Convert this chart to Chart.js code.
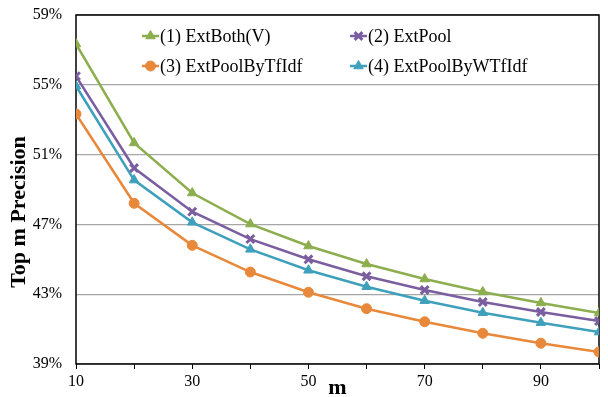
<!DOCTYPE html>
<html>
<head>
<meta charset="utf-8">
<script src="https://cdn.jsdelivr.net/npm/chart.js@4/dist/chart.umd.min.js"></script>
<style>
  html, body { margin: 0; padding: 0; background: #fff; }
  #wrap { width: 608px; height: 397px; position: relative; }
</style>
</head>
<body>
<div id="wrap"><canvas id="grafico"></canvas></div>
<script>
// valores
const valoresM = [10, 20, 30, 40, 50, 60, 70, 80, 90, 100];
const extBoth = [57.34, 51.67, 48.8, 47.02, 45.76, 44.73, 43.87, 43.13, 42.5, 41.92];
const extPool = [55.5, 50.23, 47.73, 46.16, 45.0, 44.03, 43.24, 42.55, 41.98, 41.46];
const extPoolByTfIdf = [53.33, 48.21, 45.8, 44.27, 43.11, 42.17, 41.42, 40.76, 40.19, 39.69];
const extPoolByWTfIdf = [54.93, 49.54, 47.12, 45.57, 44.37, 43.43, 42.63, 41.94, 41.37, 40.83];
const nomes = ['(1) ExtBoth(V)', '(2) ExtPool', '(3) ExtPoolByTfIdf', '(4) ExtPoolByWTfIdf'];
const tituloY = 'Top m Precision';
const tituloX = 'm';

const fonte = '"Liberation Serif", "Times New Roman", serif';

function montarSerie(nome, valores, cor, marcador, raio) {
  return {
    label: nome,
    data: valores.map((v, i) => ({ x: valoresM[i], y: v })),
    borderColor: cor,
    backgroundColor: cor,
    pointBackgroundColor: cor,
    pointBorderColor: cor,
    pointStyle: marcador,
    pointRadius: raio,
    pointBorderWidth: marcador === 'crossRot' ? 3 : 1,
    borderWidth: 2.5,
    tension: 0
  };
}

const series = [
  montarSerie(nomes[0], extBoth, '#8DAE4E', 'triangle', 5.5),
  montarSerie(nomes[1], extPool, '#7B5E9F', 'crossRot', 5.5),
  montarSerie(nomes[2], extPoolByTfIdf, '#E8883A', 'circle', 5),
  montarSerie(nomes[3], extPoolByWTfIdf, '#3FA0BC', 'triangle', 5.5)
];

// moldura da area do grafico e titulo do eixo y
const moldura = {
  id: 'moldura',
  beforeDatasetsDraw(chart) {
    const a = chart.chartArea;
    const ctx = chart.ctx;
    ctx.save();
    ctx.strokeStyle = '#000';
    ctx.lineWidth = 1.5;
    ctx.strokeRect(a.left, a.top, a.right - a.left, a.bottom - a.top);
    ctx.translate(19, 212);
    ctx.rotate(-Math.PI / 2);
    ctx.fillStyle = '#000';
    ctx.font = 'bold 22px ' + fonte;
    ctx.textAlign = 'center';
    ctx.textBaseline = 'middle';
    ctx.fillText(tituloY, 0, 0);
    ctx.restore();
  }
};

// legenda dentro da area do grafico
const legenda = {
  id: 'legenda',
  afterDraw(chart) {
    const ctx = chart.ctx;
    const posicoes = [[142, 36], [350, 36], [142, 66], [350, 66]];
    ctx.save();
    chart.data.datasets.forEach((ds, i) => {
      const [x, y] = posicoes[i];
      ctx.strokeStyle = ds.borderColor;
      ctx.lineWidth = 2.5;
      ctx.beginPath();
      ctx.moveTo(x, y);
      ctx.lineTo(x + 17, y);
      ctx.stroke();
      ctx.fillStyle = ds.borderColor;
      ctx.strokeStyle = ds.borderColor;
      ctx.lineWidth = ds.pointBorderWidth;
      Chart.helpers.drawPoint(ctx, {
        pointStyle: ds.pointStyle,
        radius: ds.pointRadius,
        borderWidth: ds.pointBorderWidth
      }, x + 8.5, y);
      ctx.fillStyle = '#000';
      ctx.font = '18px ' + fonte;
      ctx.textBaseline = 'middle';
      ctx.textAlign = 'left';
      ctx.fillText(ds.label, x + 18, y + 1);
    });
    ctx.restore();
  }
};

new Chart(document.getElementById('grafico'), {
  type: 'line',
  data: { datasets: series },
  plugins: [moldura, legenda],
  options: {
    responsive: true,
    maintainAspectRatio: false,
    animation: false,
    layout: { padding: { left: 0, right: 9, top: 15, bottom: 0 } },
    plugins: {
      legend: { display: false },
      tooltip: { enabled: false }
    },
    scales: {
      x: {
        type: 'linear',
        min: 10,
        max: 100,
        border: { display: false },
        grid: { drawOnChartArea: false, drawTicks: true, tickLength: 5, color: '#000' },
        ticks: {
          stepSize: 10,
          autoSkip: false,
          maxRotation: 0,
          padding: 3,
          color: '#000',
          font: { family: fonte, size: 16 },
          callback: v => (v < 100 && (v - 10) % 20 === 0) ? String(v) : ''
        },
        title: {
          display: true,
          text: tituloX,
          color: '#000',
          padding: { top: -8, bottom: -5 },
          font: { family: fonte, size: 22, weight: 'bold' }
        },
        afterFit: s => { s.height = 33; s.paddingLeft = 0; s.paddingRight = 0; }
      },
      y: {
        min: 39,
        max: 59,
        border: { display: false },
        grid: { color: '#A6A6A6', lineWidth: 1.2, drawTicks: false },
        ticks: {
          stepSize: 4,
          padding: 14,
          color: '#000',
          font: { family: fonte, size: 16 },
          callback: v => v + '%'
        },
        afterFit: s => { s.width = 76; s.paddingTop = 0; s.paddingBottom = 0; }
      }
    }
  }
});
</script>
</body>
</html>
